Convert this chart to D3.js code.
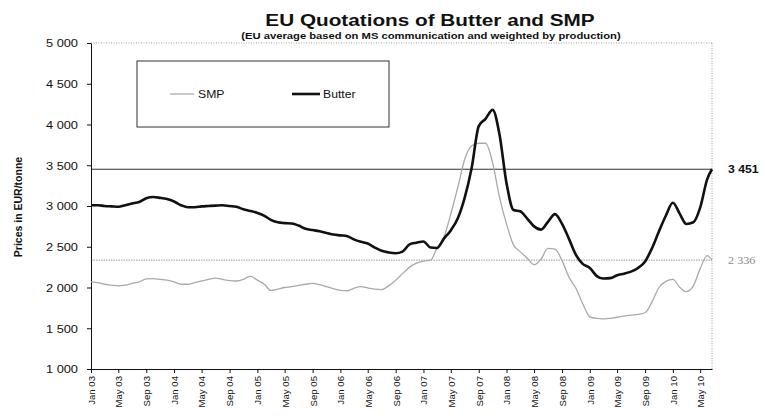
<!DOCTYPE html>
<html>
<head>
<meta charset="utf-8">
<script src="https://cdn.jsdelivr.net/npm/d3@7"></script>
<style>
  html, body { margin: 0; padding: 0; background: #fff; }
  svg { display: block; font-family: "Liberation Sans", Arial, sans-serif; }
</style>
</head>
<body>
<svg id="chart" width="765" height="418"></svg>
<script>
// ---- data ----
const startMonth = "2003-01-01";
const lastDate = "2010-06-22";
// monthly butter quotations (EUR/t), Jan 2003 .. Jun 2010
const butter = [
  3010,3010,3000,2995,2990,3010,3030,3050,3095,3110,3100,3085,
  3055,3010,2985,2985,2995,3000,3005,3010,3000,2990,2960,2940,
  2915,2880,2830,2800,2790,2785,2760,2720,2705,2690,2670,2650,
  2640,2630,2590,2560,2540,2490,2450,2430,2420,2440,2530,2550,
  2565,2490,2485,2600,2700,2850,3100,3470,3980,4070,4180,3880,
  3280,2950,2935,2845,2750,2710,2805,2900,2780,2600,2400,2290,
  2240,2140,2110,2115,2150,2170,2195,2240,2320,2480,2690,2880,
  3040,2900,2780,2800,2980,3330
];
const butterLast = 3451;
// monthly SMP quotations (EUR/t)
const smp = [
  2070,2060,2040,2030,2020,2030,2050,2070,2105,2110,2100,2090,
  2070,2040,2040,2060,2080,2100,2115,2100,2085,2080,2100,2140,
  2090,2040,1965,1980,2000,2010,2025,2040,2050,2035,2010,1985,
  1965,1960,1990,2010,1995,1980,1975,2020,2090,2170,2250,2300,
  2325,2335,2480,2620,2900,3230,3570,3740,3770,3770,3530,3110,
  2780,2520,2440,2360,2280,2350,2480,2470,2330,2130,1990,1800,
  1640,1620,1615,1620,1635,1650,1660,1670,1690,1820,2000,2075,
  2100,2000,1950,2020,2230,2390
];
const smpLast = 2336;
const yTicks = [1000,1500,2000,2500,3000,3500,4000,4500,5000];
const refLines = [
  {name: "Butter", value: 3451, label: "3 451"},
  {name: "SMP", value: 2336, label: "2 336"}
];
const legendItems = ["SMP", "Butter"];
const titleText = "EU Quotations of Butter and SMP";
const subtitleText = "(EU average based on MS communication and weighted by production)";
const yLabel = "Prices in EUR/tonne";

// ---- styles ----
const SX = 1.22; // horizontal stretch of the scanned original
const styles = {
  Butter: {stroke: "#111", width: 2.6},
  SMP: {stroke: "#a9a9a9", width: 1.3}
};

// ---- build ----
const parse = d3.timeParse("%Y-%m-%d");
const t0 = parse(startMonth), t1 = parse(lastDate);
const months = d3.timeMonth.range(t0, d3.timeMonth.offset(t0, butter.length));
const butterData = months.map((d, i) => ({date: d, v: butter[i]})).concat([{date: t1, v: butterLast}]);
const smpData = months.map((d, i) => ({date: d, v: smp[i]})).concat([{date: t1, v: smpLast}]);

const svg = d3.select("#chart");
const m = {left: 91, right: 712, top: 43, bottom: 369};
const x = d3.scaleTime().domain([t0, t1]).range([m.left, m.right]);
const y = d3.scaleLinear().domain([1000, 5000]).range([m.bottom, m.top]);

function stext(px, py, txt, opt) {
  const t = svg.append("text")
    .attr("transform", `translate(${px},${py}) scale(${SX},1)`)
    .attr("text-anchor", opt.anchor || "middle")
    .attr("font-size", opt.size)
    .attr("font-weight", opt.weight || "normal")
    .attr("fill", opt.fill || "#111")
    .text(txt);
  if (opt.family) t.attr("font-family", opt.family);
  return t;
}

// plot frame (dotted top & right)
svg.append("line").attr("x1", m.left).attr("x2", m.right).attr("y1", m.top).attr("y2", m.top)
  .attr("stroke", "#888").attr("stroke-width", 0.8).attr("stroke-dasharray", "1,1.5");
svg.append("line").attr("x1", m.right).attr("x2", m.right).attr("y1", m.top).attr("y2", m.bottom)
  .attr("stroke", "#888").attr("stroke-width", 0.8).attr("stroke-dasharray", "1,1.5");

// reference lines
svg.append("line").attr("x1", m.left).attr("x2", m.right)
  .attr("y1", y(refLines[0].value)).attr("y2", y(refLines[0].value))
  .attr("stroke", "#333").attr("stroke-width", 1);
svg.append("line").attr("x1", m.left).attr("x2", m.right)
  .attr("y1", y(refLines[1].value)).attr("y2", y(refLines[1].value))
  .attr("stroke", "#999").attr("stroke-width", 1).attr("stroke-dasharray", "1.5,1");

// axes
const yAxis = svg.append("g").attr("transform", `translate(${m.left},0)`)
  .call(d3.axisLeft(y).tickValues(yTicks).tickSize(4).tickSizeOuter(0)
    .tickFormat(d => d3.format(",")(d).replace(",", " ")));
yAxis.selectAll("text").each(function() {
  d3.select(this).attr("x", null).attr("dy", null)
    .attr("transform", `translate(-13,${0.35 * 11}) scale(${SX},1)`);
});
yAxis.selectAll("text").attr("font-size", 10.5).attr("fill", "#111").attr("font-family", null);
yAxis.select(".domain").attr("stroke", "#111");
yAxis.selectAll(".tick line").attr("stroke", "#111");

const xTicks = d3.timeMonth.every(4).range(t0, t1);
const xAxis = svg.append("g").attr("transform", `translate(0,${m.bottom})`)
  .call(d3.axisBottom(x).tickValues(xTicks).tickSize(4).tickSizeOuter(0)
    .tickFormat(d3.timeFormat("%b %y")));
xAxis.selectAll("text")
  .attr("transform", "rotate(-90)")
  .attr("text-anchor", "end")
  .attr("x", -7).attr("y", 0).attr("dy", "0.35em")
  .attr("font-size", 9.6).attr("fill", "#111").attr("font-family", null);
xAxis.select(".domain").attr("stroke", "#111");
xAxis.selectAll(".tick line").attr("stroke", "#111");

// series
const line = d3.line().x(d => x(d.date)).y(d => y(d.v)).curve(d3.curveMonotoneX);
svg.append("path").datum(smpData).attr("d", line).attr("fill", "none")
  .attr("stroke", styles.SMP.stroke).attr("stroke-width", styles.SMP.width);
svg.append("path").datum(butterData).attr("d", line).attr("fill", "none")
  .attr("stroke", styles.Butter.stroke).attr("stroke-width", styles.Butter.width)
  .attr("stroke-linejoin", "round");

// reference labels
stext(728, y(refLines[0].value) + 4, refLines[0].label, {anchor: "start", size: 10, weight: "bold"});
stext(728, y(refLines[1].value) + 4, refLines[1].label, {anchor: "start", size: 10, fill: "#8a8a8a", family: "'Liberation Serif', serif"});

// legend
svg.append("rect").attr("x", 137).attr("y", 61).attr("width", 252).attr("height", 66)
  .attr("fill", "none").attr("stroke", "#333").attr("stroke-width", 1);
const legX = [170, 292];
legendItems.forEach((k, i) => {
  svg.append("line").attr("x1", legX[i]).attr("x2", legX[i] + (i === 0 ? 24 : 28))
    .attr("y1", 94).attr("y2", 94)
    .attr("stroke", styles[k].stroke).attr("stroke-width", styles[k].width);
  stext(legX[i] + (i === 0 ? 28 : 31), 98, k, {anchor: "start", size: 10});
});

// titles
stext(430, 26, titleText, {size: 17, weight: "bold"});
stext(431, 39, subtitleText, {size: 9.2, weight: "bold"});

// y label
svg.append("text").attr("transform", `translate(22,207) rotate(-90)`)
  .attr("text-anchor", "middle").attr("font-size", 10.5).attr("font-weight", "bold")
  .attr("fill", "#111").text(yLabel);
</script>
</body>
</html>
